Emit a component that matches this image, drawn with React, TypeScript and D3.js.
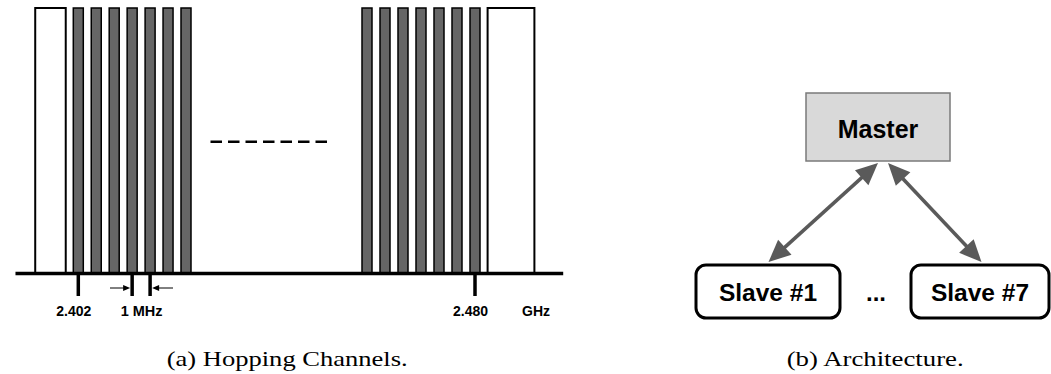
import React from "react";
import * as d3 from "d3";

// ---- data ----
const lowChannels = [2402, 2403, 2404, 2405, 2406, 2407, 2408]; // MHz
const highChannels = [2474, 2475, 2476, 2477, 2478, 2479, 2480]; // MHz
const guardBands = [
  [2399.6, 2401.3],
  [2480.7, 2483.3],
];
const axisExtent = [2398.5, 2484.9];
const freqTicks = [2402, 2480];
const freqTickLabels = ["2.402", "2.480"];
const spacingTicks = [2405, 2406];
const spacingLabel = "1 MHz";
const unitLabel = "GHz";
const masterLabel = "Master";
const slaveLabels = ["Slave #1", "Slave #7"];
const ellipsis = "...";
const captions = ["(a) Hopping Channels.", "(b) Architecture."];

const SANS = "'Liberation Sans', Arial, Helvetica, sans-serif";
const SERIF = "'Liberation Serif', 'Times New Roman', serif";

export default function App() {
  // broken (piecewise) frequency axis
  const x = d3
    .scaleLinear()
    .domain([2402, 2408, 2474, 2480])
    .range([78.3, 186.0, 367.0, 475.0]);
  const yTop = 8;
  const yBase = 273.5;
  const barW = 10;

  const allChannels = [...lowChannels, ...highChannels];

  // architecture layout
  const master = { x0: 806, x1: 950, y0: 93, y1: 161 };
  const slaves = [
    { x0: 696, x1: 840, y0: 265, y1: 318 },
    { x0: 911, x1: 1049, y0: 265, y1: 318 },
  ];
  const links = [
    { from: [768.5, 262], to: [878, 163] },
    { from: [981.5, 262], to: [888, 163] },
  ];
  const arrowColor = "#5a5a5a";
  const headLen = 22;
  const headHalf = 10;

  const headPath = (tip: number[], tail: number[]) => {
    const dx = tip[0] - tail[0];
    const dy = tip[1] - tail[1];
    const L = Math.hypot(dx, dy);
    const ux = dx / L, uy = dy / L;
    const bx = tip[0] - ux * headLen, by = tip[1] - uy * headLen;
    const px = -uy, py = ux;
    const p = d3.path();
    p.moveTo(tip[0], tip[1]);
    p.lineTo(bx + px * headHalf, by + py * headHalf);
    p.lineTo(bx - px * headHalf, by - py * headHalf);
    p.closePath();
    return p.toString();
  };
  const shorten = (a: number[], b: number[], d: number) => {
    const dx = b[0] - a[0], dy = b[1] - a[1];
    const L = Math.hypot(dx, dy);
    return [a[0] + (dx / L) * d, a[1] + (dy / L) * d];
  };

  const arrowY = 288;
  const s0 = x(spacingTicks[0]);
  const s1 = x(spacingTicks[1]);

  return (
    <svg
      width={1051}
      height={374}
      style={{ position: "absolute", left: 0, top: 0, background: "#fff" }}
    >
      {/* guard bands */}
      {guardBands.map((g, i) => (
        <rect
          key={"g" + i}
          x={x(g[0])}
          y={yTop}
          width={x(g[1]) - x(g[0])}
          height={yBase - yTop}
          fill="#fff"
          stroke="#000"
          strokeWidth={2}
        />
      ))}
      {/* channels */}
      {allChannels.map((c) => (
        <rect
          key={c}
          x={x(c) - barW / 2}
          y={yTop}
          width={barW}
          height={yBase - yTop}
          fill="#666666"
          stroke="#000"
          strokeWidth={1.5}
        />
      ))}
      {/* baseline */}
      <line
        x1={x(axisExtent[0])}
        x2={x(axisExtent[1])}
        y1={yBase}
        y2={yBase}
        stroke="#000"
        strokeWidth={3.5}
      />
      {/* dashed continuation */}
      <line
        x1={210.5}
        x2={328}
        y1={141.7}
        y2={141.7}
        stroke="#000"
        strokeWidth={2.5}
        strokeDasharray="11.5,6"
      />
      {/* frequency ticks */}
      {[...freqTicks, ...spacingTicks].map((t) => (
        <line
          key={"t" + t}
          x1={x(t)}
          x2={x(t)}
          y1={yBase}
          y2={296}
          stroke="#000"
          strokeWidth={3.5}
        />
      ))}
      {freqTicks.map((t, i) => (
        <text
          key={"tl" + t}
          x={x(t) - 4.5}
          y={316}
          textAnchor="middle"
          fontFamily={SANS}
          fontWeight="bold"
          fontSize={14}
        >
          {freqTickLabels[i]}
        </text>
      ))}
      {/* 1 MHz spacing arrows */}
      <line x1={110} x2={s0 - 6} y1={arrowY} y2={arrowY} stroke="#000" strokeWidth={1} />
      <path d={`M${s0 - 2},${arrowY} L${s0 - 9},${arrowY - 3} L${s0 - 9},${arrowY + 3} Z`} fill="#000" />
      <line x1={173} x2={s1 + 6} y1={arrowY} y2={arrowY} stroke="#000" strokeWidth={1} />
      <path d={`M${s1 + 2},${arrowY} L${s1 + 9},${arrowY - 3} L${s1 + 9},${arrowY + 3} Z`} fill="#000" />
      <text
        x={(s0 + s1) / 2 + 0.5}
        y={316}
        textAnchor="middle"
        fontFamily={SANS}
        fontWeight="bold"
        fontSize={14.5}
      >
        {spacingLabel}
      </text>
      <text
        x={536}
        y={316}
        textAnchor="middle"
        fontFamily={SANS}
        fontWeight="bold"
        fontSize={14}
      >
        {unitLabel}
      </text>

      {/* architecture */}
      <rect
        x={master.x0}
        y={master.y0}
        width={master.x1 - master.x0}
        height={master.y1 - master.y0}
        fill="#d9d9d9"
        stroke="#7a7a7a"
        strokeWidth={1.5}
      />
      <text
        x={(master.x0 + master.x1) / 2}
        y={137.5}
        textAnchor="middle"
        fontFamily={SANS}
        fontWeight="bold"
        fontSize={25}
      >
        {masterLabel}
      </text>
      {slaves.map((s, i) => (
        <g key={"s" + i}>
          <rect
            x={s.x0}
            y={s.y0}
            width={s.x1 - s.x0}
            height={s.y1 - s.y0}
            rx={10}
            ry={10}
            fill="#fff"
            stroke="#000"
            strokeWidth={3}
          />
          <text
            x={(s.x0 + s.x1) / 2}
            y={300.5}
            textAnchor="middle"
            fontFamily={SANS}
            fontWeight="bold"
            fontSize={24.5}
          >
            {slaveLabels[i]}
          </text>
        </g>
      ))}
      <text
        x={876}
        y={300.5}
        textAnchor="middle"
        fontFamily={SANS}
        fontWeight="bold"
        fontSize={24}
      >
        {ellipsis}
      </text>
      {links.map((l, i) => {
        const a = shorten(l.from, l.to, headLen - 2);
        const b = shorten(l.to, l.from, headLen - 2);
        return (
          <g key={"l" + i}>
            <line x1={a[0]} y1={a[1]} x2={b[0]} y2={b[1]} stroke={arrowColor} strokeWidth={3.5} />
            <path d={headPath(l.to, l.from)} fill={arrowColor} />
            <path d={headPath(l.from, l.to)} fill={arrowColor} />
          </g>
        );
      })}

      {/* captions */}
      <text
        x={166.7}
        y={366}
        fontFamily={SERIF}
        fontSize={21}
        textLength={241}
        lengthAdjust="spacingAndGlyphs"
      >
        {captions[0]}
      </text>
      <text
        x={786.7}
        y={366}
        fontFamily={SERIF}
        fontSize={21}
        textLength={177}
        lengthAdjust="spacingAndGlyphs"
      >
        {captions[1]}
      </text>
    </svg>
  );
}
